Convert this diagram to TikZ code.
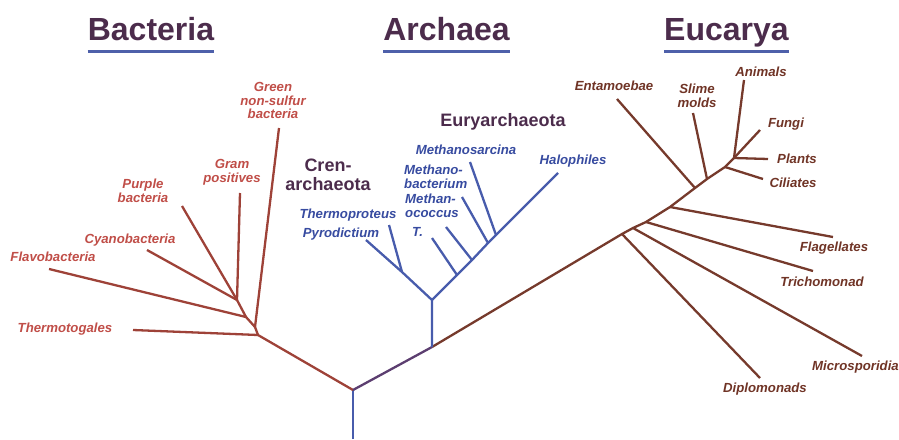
\documentclass[tikz,border=0pt]{standalone}
\usepackage{fontspec}
\setmainfont{Liberation Sans}
\definecolor{bactlab}{RGB}{192,78,72}
\definecolor{bactln}{RGB}{158,66,56}
\definecolor{archlab}{RGB}{55,75,160}
\definecolor{archln}{RGB}{72,92,172}
\definecolor{euklab}{RGB}{112,52,38}
\definecolor{eukln}{RGB}{118,58,44}
\definecolor{mixln}{RGB}{92,62,112}
\definecolor{titletext}{RGB}{76,44,76}
\definecolor{titleline}{RGB}{78,96,170}
\begin{document}
\begin{tikzpicture}[x=1pt,y=-1pt,
  lab/.style={inner sep=0pt,font=\bfseries\itshape\fontsize{13.2}{13.8}\selectfont},
  one/.style={lab,text height=9pt,text depth=0pt},
  multi/.style={lab,align=center},
  blab/.style={text=bactlab},
  alab/.style={text=archlab},
  elab/.style={text=euklab},
  grouplab/.style={inner sep=0pt,text=titletext,font=\bfseries\fontsize{18}{18.5}\selectfont,align=center},
  titlelab/.style={inner sep=0pt,anchor=base,text=titletext,font=\bfseries\fontsize{32}{34}\selectfont},
  uline/.style={draw=titleline,line width=3pt},
  branch/.style={line width=2.3pt,line join=round},
  bline/.style={branch,draw=bactln},
  aline/.style={branch,draw=archln},
  eline/.style={branch,draw=eukln}]
\useasboundingbox (0,0) rectangle (899,439);

% titles
\node[titlelab] (tb) at (151,40) {Bacteria};
\node[titlelab] (ta) at (446.5,40) {Archaea};
\node[titlelab] (te) at (726.5,40) {Eucarya};
\draw[uline] (tb.west |- 0,51) coordinate (tbl) -- (tb.east |- 0,51) coordinate (tbr);
\draw[uline] (ta.west |- 0,51) coordinate (tal) -- (ta.east |- 0,51) coordinate (tar);
\draw[uline] (te.west |- 0,51) coordinate (tel) -- (te.east |- 0,51) coordinate (ter);

% junctions
\coordinate (root) at (353,390);
\coordinate (rootbot) at (353,439);
\coordinate (B1) at (258,335);
\coordinate (Bg) at (255,327);
\coordinate (B2) at (246,317);
\coordinate (B3) at (237,300);
\coordinate (A0) at (432,347);
\coordinate (A1) at (432,300);
\coordinate (C1) at (402,272);
\coordinate (Tj) at (457,275);
\coordinate (Mcj) at (472,260);
\coordinate (Mbj) at (488,243);
\coordinate (Msj) at (496,235);
\coordinate (E1) at (622,234);
\coordinate (E2) at (633,228);
\coordinate (E3) at (646,222);
\coordinate (E4) at (670,207);
\coordinate (E5) at (695,188);
\coordinate (E6) at (707,179);
\coordinate (E7) at (725,167);
\coordinate (E8) at (734,158);

% tips
\coordinate (tThermotog) at (133,330);
\coordinate (tGreen) at (279,128);
\coordinate (tFlavo) at (49,269);
\coordinate (tCyano) at (147,250);
\coordinate (tPurple) at (182,206);
\coordinate (tGram) at (240,193);
\coordinate (tPyro) at (366,240);
\coordinate (tThermop) at (389,225);
\coordinate (tHalo) at (558,173);
\coordinate (tT) at (432,238);
\coordinate (tMc) at (446,227);
\coordinate (tMb) at (462,197);
\coordinate (tMs) at (470,162);
\coordinate (tDiplo) at (760,378);
\coordinate (tMicro) at (862,356);
\coordinate (tTricho) at (813,271);
\coordinate (tFlag) at (833,237);
\coordinate (tEntam) at (617,99);
\coordinate (tSlime) at (693,113);
\coordinate (tCil) at (763,179);
\coordinate (tPlants) at (768,159);
\coordinate (tFungi) at (760,130);
\coordinate (tAnimals) at (744,80);

% root and trunk
\draw[branch,draw=archln] (rootbot) -- (root);
\draw[bline] (root) -- (B1) -- (Bg) -- (B2) -- (B3);
\draw[branch,draw=mixln] (root) -- (A0);
\draw[eline] (A0) -- (E1) -- (E2) -- (E3) -- (E4) -- (E5) -- (E6) -- (E7) -- (E8);

% bacteria
\draw[bline] (B1) -- (tThermotog);
\draw[bline] (Bg) -- (tGreen);
\draw[bline] (B2) -- (tFlavo);
\draw[bline] (B3) -- (tCyano);
\draw[bline] (B3) -- (tPurple);
\draw[bline] (B3) -- (tGram);

% archaea
\draw[aline] (A0) -- (A1) -- (C1) -- (tPyro);
\draw[aline] (C1) -- (tThermop);
\draw[aline] (A1) -- (Tj) -- (Mcj) -- (Mbj) -- (Msj) -- (tHalo);
\draw[aline] (Tj) -- (tT);
\draw[aline] (Mcj) -- (tMc);
\draw[aline] (Mbj) -- (tMb);
\draw[aline] (Msj) -- (tMs);

% eukarya
\draw[eline] (E1) -- (tDiplo);
\draw[eline] (E2) -- (tMicro);
\draw[eline] (E3) -- (tTricho);
\draw[eline] (E4) -- (tFlag);
\draw[eline] (E5) -- (tEntam);
\draw[eline] (E6) -- (tSlime);
\draw[eline] (E7) -- (tCil);
\draw[eline] (E8) -- (tPlants);
\draw[eline] (E8) -- (tFungi);
\draw[eline] (E8) -- (tAnimals);

% bacteria labels
\node[multi,blab] (lGreen) at (273,100.5) {Green\\non-sulfur\\bacteria};
\node[multi,blab] (lGram) at (232,172.5) {Gram\\positives};
\node[multi,blab] (lPurple) at (143,190.5) {Purple\\bacteria};
\node[one,blab] (lCyano) at (130,239) {Cyanobacteria};
\node[one,blab] (lFlavo) at (53,257) {Flavobacteria};
\node[one,blab] (lThermotog) at (65,328) {Thermotogales};

% archaea labels
\node[grouplab] (lEury) at (503,122) {Euryarchaeota};
\node[grouplab] (lCren) at (328,175) {Cren-\\archaeota};
\node[one,alab] (lMs) at (466,150) {Methanosarcina};
\node[one,alab] (lHalo) at (573,160) {Halophiles};
\node[lab,alab,align=left,anchor=west] (lMb) at (404,177) {Methano-\\bacterium};
\node[lab,alab,align=left,anchor=west] (lMc) at (405,206) {Methan-\\ococcus};
\node[one,alab,anchor=west] (lT) at (412,232) {T.};
\node[one,alab] (lThermop) at (348,214) {Thermoproteus};
\node[one,alab] (lPyro) at (341,233) {Pyrodictium};

% eukarya labels
\node[one,elab] (lEntam) at (614,86) {Entamoebae};
\node[multi,elab] (lSlime) at (697,95.5) {Slime\\molds};
\node[one,elab] (lAnimals) at (761,72) {Animals};
\node[one,elab] (lFungi) at (786,123) {Fungi};
\node[one,elab] (lPlants) at (797,159) {Plants};
\node[one,elab] (lCil) at (793,183) {Ciliates};
\node[one,elab] (lFlag) at (834,247) {Flagellates};
\node[one,elab] (lTricho) at (822,282) {Trichomonad};
\node[one,elab,anchor=west] (lMicro) at (812,366) {Microsporidia};
\node[one,elab] (lDiplo) at (765,388) {Diplomonads};
\end{tikzpicture}
\end{document}
